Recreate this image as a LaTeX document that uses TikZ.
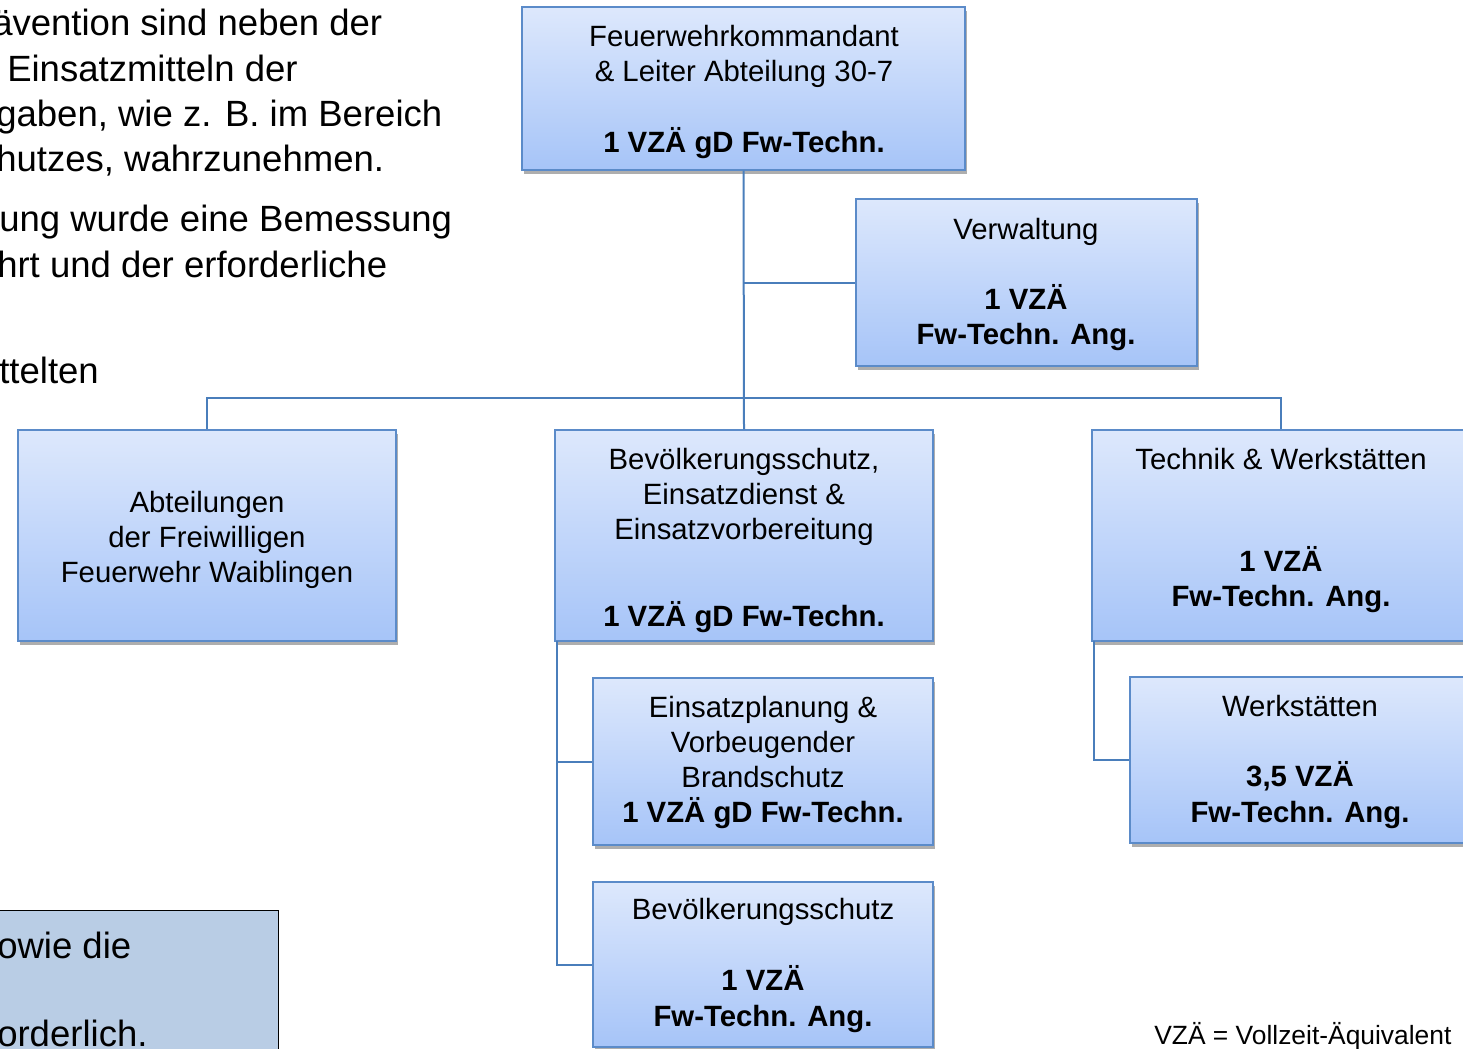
\documentclass[tikz,border=0pt]{standalone}
\usepackage{fontspec}
\setmainfont{Liberation Sans}
\usetikzlibrary{fit,shadows}
\definecolor{boxtop}{HTML}{DDE8FC}
\definecolor{boxbot}{HTML}{A6C4F8}
\definecolor{boxline}{HTML}{5B8BC9}
\definecolor{connline}{HTML}{4A7EBB}
\definecolor{notefill}{HTML}{B9CDE5}
\tikzset{
  orgbox/.style={draw=boxline, line width=1.1pt, top color=boxtop, bottom color=boxbot,
    inner sep=0pt, drop shadow={shadow xshift=1.2pt, shadow yshift=-2.8pt, opacity=0.45, fill=black!70}},
  conn/.style={draw=connline, line width=1.5pt},
  lbl/.style={anchor=base, inner sep=0pt, font=\fontsize{22}{26}\selectfont},
  lblb/.style={lbl, font=\fontsize{22}{26}\selectfont\bfseries},
  body/.style={anchor=base west, inner sep=0pt, font=\fontsize{27.4}{33}\selectfont},
  foot/.style={anchor=base west, inner sep=0pt, font=\fontsize{19.8}{24}\selectfont}
}
\begin{document}
\begin{tikzpicture}[x=0.75pt, y=-0.75pt]
\useasboundingbox (0,0) rectangle (1463,1049);
\fill[white] (0,0) rectangle (1463,1049);

% background body text (cut off at the left edge, as in the reference)
\node[body] (t1) at (-8,36) {ävention sind neben der};
\node[body] (t2) at (7,82) {Einsatzmitteln der};
\node[body] (t3) at (-4,127) {gaben, wie z. B. im Bereich};
\node[body] (t4) at (-4,171) {hutzes, wahrzunehmen.};
\node[body] (t5) at (-1,231) {ung wurde eine Bemessung};
\node[body] (t6) at (-3,277) {hrt und der erforderliche};
\node[body] (t7) at (-1,383) {ttelten};

% note box bottom left
\draw[fill=notefill, draw=black, line width=0.6pt] (-10,910) rectangle (278,1070);
\node[body] (n1) at (-3,958) {owie die};
\node[body] (n2) at (-3,1046) {orderlich.};

% boxes
\node[orgbox, fit={(522,7) (965,170)}] (top) {};
\node[orgbox, fit={(856,199) (1197,366)}] (verw) {};
\node[orgbox, fit={(18,430) (396,641)}] (abt) {};
\node[orgbox, fit={(555,430) (933,641)}] (mid) {};
\node[orgbox, fit={(1092,430) (1470,641)}] (tech) {};
\node[orgbox, fit={(593,678) (933,845)}] (einsatz) {};
\node[orgbox, fit={(593,882) (933,1047)}] (bev) {};
\node[orgbox, fit={(1130,677) (1470,843)}] (werk) {};

% connectors
\coordinate (bus) at (744,398);
\coordinate (ml) at (557,641);
\coordinate (tl) at (1094,641);
\draw[conn] (top.south) -- (mid.north);
\draw[conn] (top.south |- verw.west) -- (verw.west);
\draw[conn] (abt.north) -- (abt.north |- bus) -- (tech.north |- bus) -- (tech.north);
\draw[conn] (ml) |- (einsatz.west);
\draw[conn] (ml) |- (bev.west);
\draw[conn] (tl) |- (werk.west);

% box texts
\node[lbl] (top1) at (744,47) {Feuerwehrkommandant};
\node[lbl] (top2) at (744,82) {\& Leiter Abteilung 30-7};
\node[lblb] (top3) at (744,152) {1 VZÄ gD Fw-Techn.};

\node[lbl] (verw1) at (1026,239) {Verwaltung};
\node[lblb] (verw2) at (1026,309) {1 VZÄ};
\node[lblb] (verw3) at (1026,344) {Fw-Techn. Ang.};

\node[lbl] (abt1) at (207,512) {Abteilungen};
\node[lbl] (abt2) at (207,547) {der Freiwilligen};
\node[lbl] (abt3) at (207,582) {Feuerwehr Waiblingen};

\node[lbl] (mid1) at (744,469) {Bevölkerungsschutz,};
\node[lbl] (mid2) at (744,504) {Einsatzdienst \&};
\node[lbl] (mid3) at (744,539) {Einsatzvorbereitung};
\node[lblb] (mid4) at (744,626) {1 VZÄ gD Fw-Techn.};

\node[lbl] (tech1) at (1281,469) {Technik \& Werkstätten};
\node[lblb] (tech2) at (1281,571) {1 VZÄ};
\node[lblb] (tech3) at (1281,606) {Fw-Techn. Ang.};

\node[lbl] (ein1) at (763,717) {Einsatzplanung \&};
\node[lbl] (ein2) at (763,752) {Vorbeugender};
\node[lbl] (ein3) at (763,787) {Brandschutz};
\node[lblb] (ein4) at (763,822) {1 VZÄ gD Fw-Techn.};

\node[lbl] (bev1) at (763,919) {Bevölkerungsschutz};
\node[lblb] (bev2) at (763,990) {1 VZÄ};
\node[lblb] (bev3) at (763,1026) {Fw-Techn. Ang.};

\node[lbl] (werk1) at (1300,716) {Werkstätten};
\node[lblb] (werk2) at (1300,786) {3,5 VZÄ};
\node[lblb] (werk3) at (1300,822) {Fw-Techn. Ang.};

\node[foot] (fn) at (1154,1044) {VZÄ = Vollzeit-Äquivalent};
\end{tikzpicture}
\end{document}
